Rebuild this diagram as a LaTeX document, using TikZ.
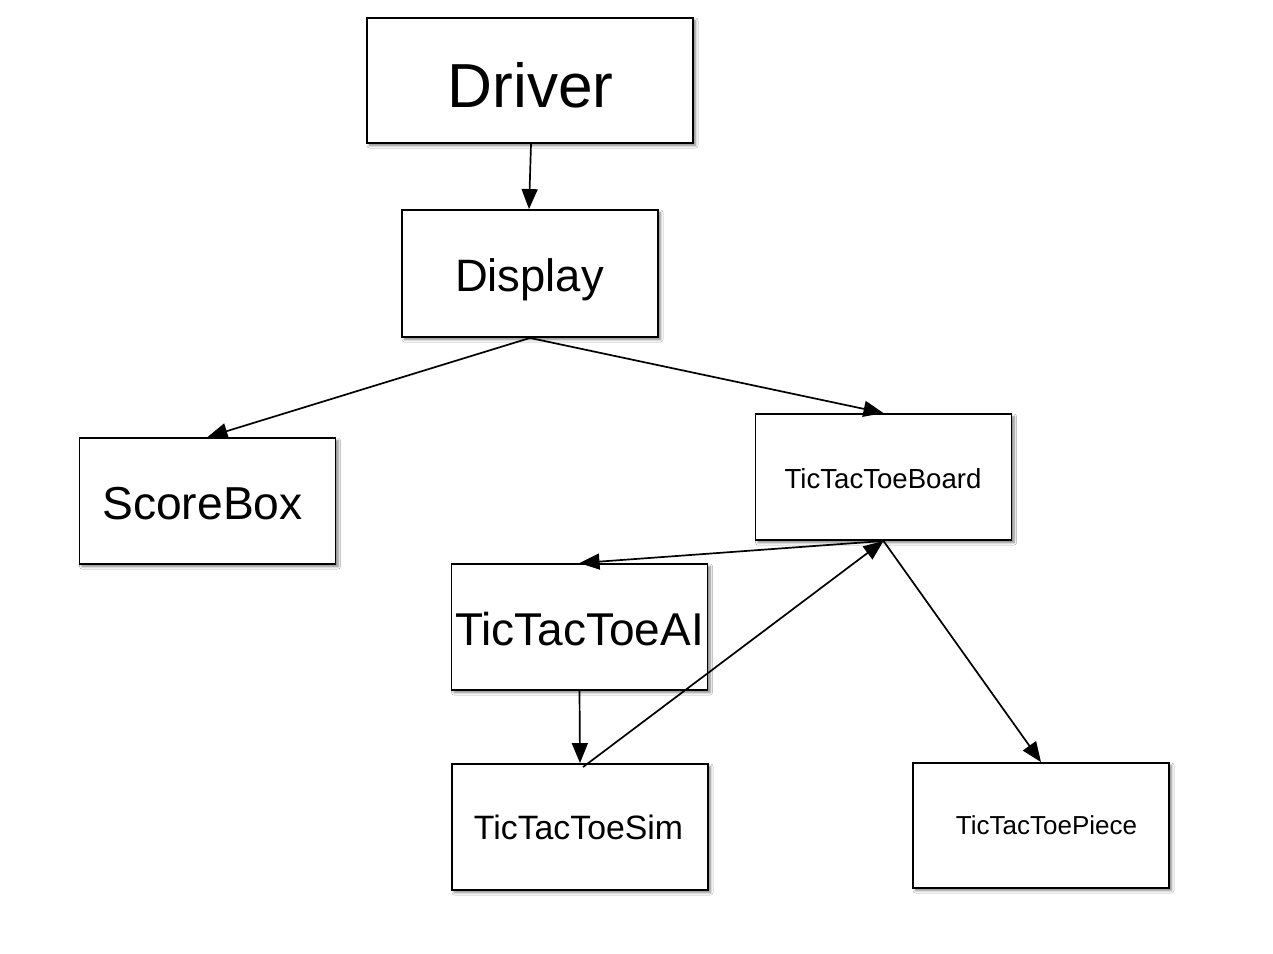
\documentclass[tikz,border=0pt]{standalone}
\usepackage{fontspec}
\setmainfont{Liberation Sans}
\usetikzlibrary{arrows.meta,shadows.blur}
\tikzset{
  classbox/.style={draw=black, line width=1.9pt, fill=white, rectangle, inner sep=0pt,
    minimum width=256pt, minimum height=126pt,
    blur shadow={shadow xshift=2.5pt, shadow yshift=-2.5pt, shadow blur radius=2.5pt, shadow blur steps=6, shadow opacity=50}},
  lbl/.style={anchor=base, inner sep=0pt},
  conn/.style={line width=1.7pt, -{Triangle[length=20pt,width=16pt]}},
}
\begin{document}
\begin{tikzpicture}[x=1pt,y=-1pt]
\useasboundingbox (0,0) rectangle (1273,953);
\fill[white] (0,0) rectangle (1273,953);
% boxes
\node[classbox, minimum width=326pt, minimum height=125pt] (driver) at (530,80.5) {};
\node[classbox, minimum height=127pt] (display) at (530,273.5) {};
\node[classbox] (scorebox) at (207.5,501) {};
\node[classbox] (board) at (883.5,477) {};
\node[classbox] (ai) at (579.5,627) {};
\node[classbox] (sim) at (580,827) {};
\node[classbox, minimum height=125pt] (piece) at (1041,825.5) {};
% labels
\node[lbl, font=\fontsize{62.2}{70}\selectfont] (ldriver) at (530.5,107) {Driver};
\node[lbl, font=\fontsize{45.4}{52}\selectfont] (ldisplay) at (529.5,291) {Display};
\node[lbl, font=\fontsize{46.2}{52}\selectfont] (lscore) at (202.5,519) {ScoreBox};
\node[lbl, font=\fontsize{27.6}{32}\selectfont] (lboard) at (883,488) {TicTacToeBoard};
\node[lbl, font=\fontsize{46}{52}\selectfont] (lai) at (579.5,645) {TicTacToeAI};
\node[lbl, font=\fontsize{33.8}{40}\selectfont] (lsim) at (578.5,839) {TicTacToeSim};
\node[lbl, font=\fontsize{26}{30}\selectfont] (lpiece) at (1046.5,834) {TicTacToePiece};
% connectors
\coordinate (driverout) at ([xshift=1pt]driver.south);
\coordinate (displayin) at ([xshift=-1pt]display.north);
\coordinate (simstart) at ([xshift=3pt,yshift=-4pt]sim.north);
\draw[conn] (driverout) -- (displayin);
\draw[conn] (display.south) -- (scorebox.north);
\draw[conn] (display.south) -- (board.north);
\draw[conn] (board.south) -- (ai.north);
\draw[conn] (ai.south) -- (sim.north);
\draw[conn] (simstart) -- (board.south);
\draw[conn] (board.south) -- (piece.north);
\end{tikzpicture}
\end{document}
